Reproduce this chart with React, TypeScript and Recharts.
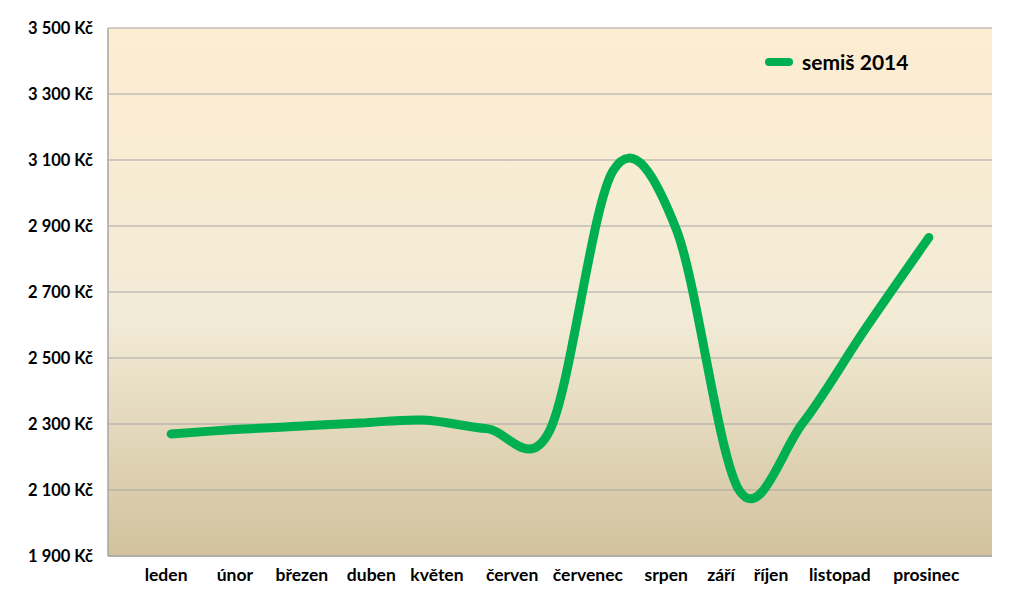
import { CartesianGrid, Line, LineChart, XAxis, YAxis } from "recharts";

// 13 samples on the line, 12 month labels underneath
const months = [
  "leden",
  "únor",
  "březen",
  "duben",
  "květen",
  "červen",
  "červenec",
  "srpen",
  "září",
  "říjen",
  "listopad",
  "prosinec",
];
// where each month label sits along the sample index axis
const monthAt = [-0.08, 1.01, 2.07, 3.17, 4.21, 5.4, 6.6, 7.84, 8.71, 9.5, 10.59, 11.96];
const semis2014 = [2270, 2283, 2293, 2303, 2312, 2286, 2282, 3068, 2890, 2098, 2302, 2590, 2865];
const yTicks = [1900, 2100, 2300, 2500, 2700, 2900, 3100, 3300, 3500];

const data = semis2014.map((value, i) => ({ i, value }));

const FONT = "Lato, 'Open Sans', sans-serif";

function formatKc(n: number) {
  const thousands = Math.floor(n / 1000);
  const rest = String(n % 1000).padStart(3, "0");
  return `${thousands} ${rest} Kč`;
}

function monthLabel(v: number) {
  const idx = monthAt.indexOf(v);
  return months[idx] ?? "";
}

// Excel-like smoothed line (uniform Catmull-Rom as Bezier segments)
function excelSmooth(context: any) {
  let pts: [number, number][] = [];
  return {
    areaStart() {},
    areaEnd() {},
    lineStart() {
      pts = [];
    },
    point(x: number, y: number) {
      pts.push([+x, +y]);
    },
    lineEnd() {
      if (!pts.length) return;
      context.moveTo(pts[0][0], pts[0][1]);
      for (let k = 0; k < pts.length - 1; k++) {
        const p0 = pts[k - 1] ?? pts[k];
        const p1 = pts[k];
        const p2 = pts[k + 1];
        const p3 = pts[k + 2] ?? p2;
        context.bezierCurveTo(
          p1[0] + (p2[0] - p0[0]) / 6,
          p1[1] + (p2[1] - p0[1]) / 6,
          p2[0] - (p3[0] - p1[0]) / 6,
          p2[1] - (p3[1] - p1[1]) / 6,
          p2[0],
          p2[1],
        );
      }
    },
  };
}

export default function App() {
  return (
    <div style={{ position: "absolute", left: 0, top: 0, width: 1024, height: 597, background: "#fff" }}>
      <LineChart width={1024} height={597} data={data} margin={{ top: 28, right: 32, left: 0, bottom: 0 }}>
        <defs>
          <linearGradient id="plotBg" x1="0" y1="0" x2="0" y2="1">
            <stop offset="0%" stopColor="#fdedd1" />
            <stop offset="55%" stopColor="#f2ebd6" />
            <stop offset="100%" stopColor="#d2c29d" />
          </linearGradient>
        </defs>
        <CartesianGrid
          vertical={false}
          stroke="#a6a6a6"
          strokeWidth={1.2}
          fill="url(#plotBg)"
          fillOpacity={1}
        />
        <XAxis
          dataKey="i"
          type="number"
          domain={[-1, 13]}
          ticks={monthAt}
          tickFormatter={monthLabel}
          interval={0}
          height={41}
          tickSize={0}
          tickMargin={13}
          axisLine={{ stroke: "#a6a6a6", strokeWidth: 1.5 }}
          tickLine={false}
          tick={{ fill: "#000", fontSize: 17.5, fontWeight: 700, fontFamily: FONT }}
        />
        <YAxis
          domain={[1900, 3500]}
          ticks={yTicks}
          interval={0}
          width={108}
          tickSize={0}
          tickMargin={15}
          tickFormatter={formatKc}
          axisLine={{ stroke: "#a6a6a6", strokeWidth: 1.5 }}
          tickLine={false}
          tick={{ fill: "#000", fontSize: 16.5, fontWeight: 700, fontFamily: FONT }}
        />
        <Line
          dataKey="value"
          type={excelSmooth as any}
          stroke="#00b050"
          strokeWidth={9}
          strokeLinecap="round"
          strokeLinejoin="round"
          dot={false}
          activeDot={false}
          isAnimationActive={false}
        />
      </LineChart>
      <div
        style={{
          position: "absolute",
          left: 765,
          top: 48,
          display: "flex",
          alignItems: "center",
          fontFamily: FONT,
        }}
      >
        <span
          style={{
            display: "inline-block",
            width: 28,
            height: 8,
            borderRadius: 4,
            background: "#00b050",
            marginRight: 9,
          }}
        />
        <span style={{ fontSize: 21, fontWeight: 700, color: "#000", lineHeight: "28px" }}>semiš 2014</span>
      </div>
    </div>
  );
}
